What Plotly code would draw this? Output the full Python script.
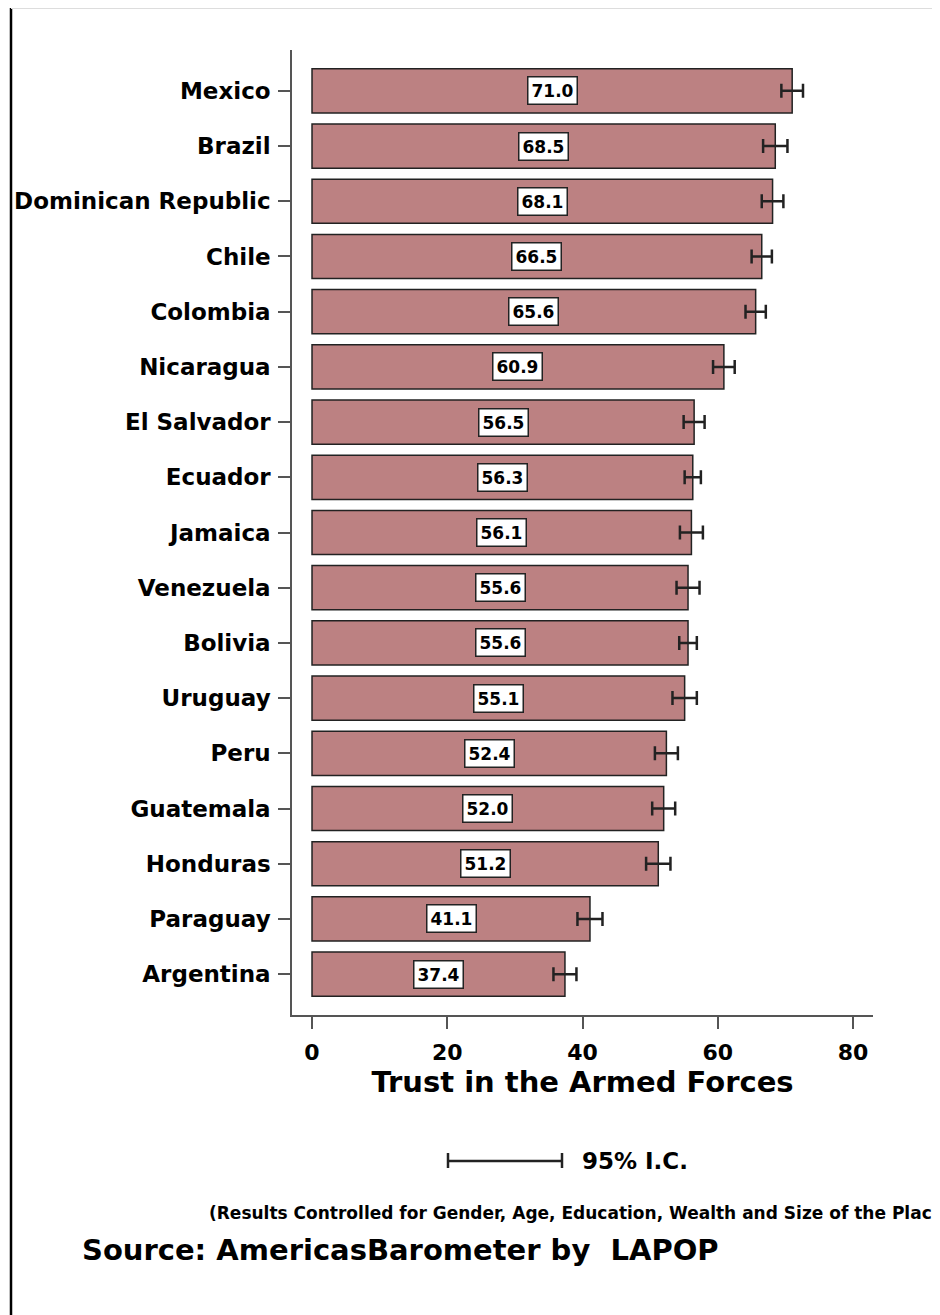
import plotly.graph_objects as go

countries = ["Mexico", "Brazil", "Dominican Republic", "Chile", "Colombia", "Nicaragua",
             "El Salvador", "Ecuador", "Jamaica", "Venezuela", "Bolivia", "Uruguay",
             "Peru", "Guatemala", "Honduras", "Paraguay", "Argentina"]
trust = [71.0, 68.5, 68.1, 66.5, 65.6, 60.9, 56.5, 56.3, 56.1, 55.6, 55.6, 55.1,
         52.4, 52.0, 51.2, 41.1, 37.4]
ci_half = [1.6, 1.8, 1.6, 1.5, 1.5, 1.6, 1.55, 1.2, 1.7, 1.7, 1.3, 1.8,
           1.7, 1.7, 1.8, 1.85, 1.7]
x_ticks = [0, 20, 40, 60, 80]
x_title = "Trust in the Armed Forces"
legend_text = "95% I.C."
footnote = "(Results Controlled for Gender, Age, Education, Wealth and Size of the Place)"
source = "Source: AmericasBarometer by&nbsp; LAPOP"

OFF = 8  # page body margin
W, H = 940 - OFF, 1315 - OFF
ML, MT = 292 - OFF, 50 - OFF
MR = W - (873 - OFF)
MB = H - (1015 - OFF)
PW, PH = W - ML - MR, H - MT - MB

def px(x):
    return (x - OFF - ML) / PW

def py(y):
    return (H - MB - (y - OFF)) / PH

FONT = "DejaVu Sans"
BAR = "#BC8182"
DARK = "#222222"
AXIS = "#555555"

fig = go.Figure()
fig.add_trace(go.Bar(
    x=trust, y=countries, orientation="h", width=0.8,
    marker=dict(color=BAR, line=dict(color=DARK, width=1.5)),
    error_x=dict(type="data", array=ci_half, color=DARK, thickness=2.5, width=7),
    hoverinfo="skip", showlegend=False,
))

annotations = []
for c, v in zip(countries, trust):
    annotations.append(dict(
        x=v / 2, y=c, xref="x", yref="y", text=f"{v:.1f}", showarrow=False,
        font=dict(family=FONT, size=17, color="black", weight="bold"),
        bgcolor="white", bordercolor=DARK, borderwidth=1.5, borderpad=3,
    ))

annotations += [
    dict(x=px(580), y=py(1161), xref="paper", yref="paper", text=legend_text,
         showarrow=False, xanchor="left", yanchor="middle",
         font=dict(family=FONT, size=23, color="black", weight="bold")),
    dict(x=px(207), y=py(1213), xref="paper", yref="paper", text=footnote,
         showarrow=False, xanchor="left", yanchor="middle",
         font=dict(family=FONT, size=17, color="black", weight="bold")),
    dict(x=px(80), y=py(1250), xref="paper", yref="paper", text=source,
         showarrow=False, xanchor="left", yanchor="middle",
         font=dict(family=FONT, size=29, color="black", weight="bold")),
]

shapes = [
    # page frame
    dict(type="line", xref="paper", yref="paper", x0=px(11), x1=px(11), y0=py(8), y1=py(1315),
         line=dict(color="black", width=2.5)),
    dict(type="line", xref="paper", yref="paper", x0=px(11), x1=px(940), y0=py(8), y1=py(8),
         line=dict(color="#dddddd", width=2)),
    # CI legend
    dict(type="line", xref="paper", yref="paper", x0=px(448), x1=px(562), y0=py(1161), y1=py(1161),
         line=dict(color=DARK, width=2.5)),
    dict(type="line", xref="paper", yref="paper", x0=px(448), x1=px(448), y0=py(1153), y1=py(1168),
         line=dict(color=DARK, width=2.5)),
    dict(type="line", xref="paper", yref="paper", x0=px(562), x1=px(562), y0=py(1153), y1=py(1168),
         line=dict(color=DARK, width=2.5)),
]

fig.update_layout(
    width=W, height=H,
    margin=dict(l=ML, r=MR, t=MT, b=MB),
    paper_bgcolor="white", plot_bgcolor="white",
    font=dict(family=FONT, color="black"),
    annotations=annotations, shapes=shapes,
    bargap=0.2,
)
fig.update_xaxes(
    range=[-2.96, 82.95], tickvals=x_ticks, ticktext=[str(t) for t in x_ticks],
    showgrid=False, zeroline=False, showline=True, linecolor=AXIS, linewidth=1.5,
    ticks="outside", ticklen=12, tickwidth=1.5, tickcolor=AXIS,
    tickfont=dict(family=FONT, size=22, color="black", weight="bold"),
    ticklabelstandoff=5,
    title=dict(text=x_title, standoff=8,
               font=dict(family=FONT, size=29, color="black", weight="bold")),
    automargin=False,
)
fig.update_yaxes(
    type="category", categoryorder="array", categoryarray=countries,
    range=[16.74, -0.74],
    showgrid=False, zeroline=False, showline=True, linecolor=AXIS, linewidth=1.5,
    ticks="outside", ticklen=12, tickwidth=1.5, tickcolor=AXIS,
    tickfont=dict(family=FONT, size=23, color="black", weight="bold"),
    ticklabelstandoff=3, automargin=False,
)

fig.write_html("out.html")
